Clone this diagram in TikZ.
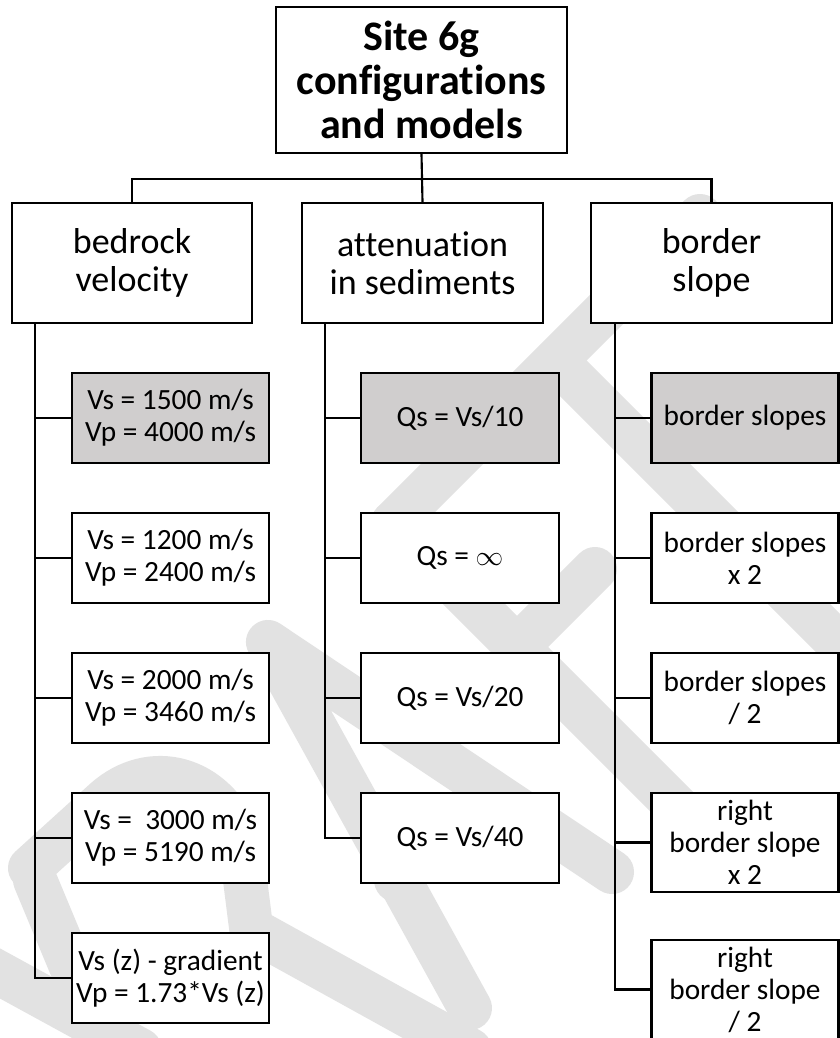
\documentclass[tikz,border=0pt]{standalone}
\usepackage{fontspec}
\setmainfont{Carlito}[Ligatures=NoCommon]
\usetikzlibrary{calc}
\definecolor{boxgray}{RGB}{208,206,206}
\definecolor{wmgray}{RGB}{226,226,226}
\begin{document}
\begin{tikzpicture}[x=0.75pt,y=-0.75pt,
  box/.style={draw=black,line width=1.6pt,fill=white,inner sep=0pt,align=center},
  topbox/.style={box,minimum width=218.25pt,minimum height=109.5pt,
    font=\fontsize{31.5}{33}\selectfont\bfseries},
  catbox/.style={box,minimum width=180.4pt,minimum height=90pt,
    font=\fontsize{27}{28.5}\selectfont},
  leaf/.style={box,minimum height=67.5pt,font=\fontsize{22}{24}\selectfont},
  bedbox/.style={leaf,minimum width=147.75pt},
  attbox/.style={leaf,minimum width=148.5pt},
  borbox/.style={leaf,minimum width=140.25pt},
  tallbox/.style={borbox,minimum height=74.25pt},
  shaded/.style={fill=boxgray},
  conn/.style={draw=black,line width=1.6pt},
  wm/.style={draw=wmgray,line width=33pt,line cap=round,line join=round}]

\fill[white] (0,0) rectangle (839,1038);
\useasboundingbox (0,0) rectangle (839,1038);

% background watermark strokes
\begin{scope}[wm]
  \draw (393,523) -- (700,216);
  \draw (556,361) -- (900,705);
  \draw (393,523) -- (700,830);
  \draw (517,647) -- (595,569);
  \draw (612,872) -- (268,642) -- (470,1008);
  \draw (396,880) -- (489,792);
  \draw (30,868) -- (105,800) .. controls (150,760) and (215,775) .. (240,840) -- (252,935);
  \draw (35,880) -- (110,1060);
  \draw (262,935) -- (470,1050);
  \draw (-10,968) -- (140,1050);
\end{scope}

% root and categories
\node[topbox] (top) at (421.5,80) {Site 6g\\configurations\\and models};
\node[catbox] (bed) at (132,263) {bedrock\\velocity};
\node[catbox] (att) at (422.5,263) {attenuation\\in sediments};
\node[catbox] (bor) at (711.5,263) {border\\slope};

% bedrock velocity variants
\node[bedbox,shaded] (b1) at (170.5,418) {Vs = 1500 m/s\\Vp = 4000 m/s};
\node[bedbox] (b2) at (170.5,558) {Vs = 1200 m/s\\Vp = 2400 m/s};
\node[bedbox] (b3) at (170.5,698) {Vs = 2000 m/s\\Vp = 3460 m/s};
\node[bedbox] (b4) at (170.5,838) {Vs =\ \ 3000 m/s\\Vp = 5190 m/s};
\node[bedbox] (b5) at (170.5,978) {Vs (z) - gradient\\Vp = 1.73*Vs (z)};

% attenuation variants
\node[attbox,shaded] (a1) at (460,418) {Qs = Vs/10};
\node[attbox] (a2) at (460,558) {Qs = $\infty$};
\node[attbox] (a3) at (460,698) {Qs = Vs/20};
\node[attbox] (a4) at (460,838) {Qs = Vs/40};

% border slope variants
\node[borbox,shaded] (r1) at (745,418) {border slopes};
\node[borbox] (r2) at (745,558) {border slopes\\x 2};
\node[borbox] (r3) at (745,698) {border slopes\\/ 2};
\node[tallbox] (r4) at (745,842.5) {right\\border slope\\x 2};
\node[tallbox] (r5) at (745,989.5) {right\\border slope\\/ 2};

% root to categories
\draw[conn] (top.south) -- (att.north);
\draw[conn] (top.south) ++(0,25) -| (bed.north);
\draw[conn] (top.south) ++(0,25) -| (bor.north);

% trunks
\coordinate (bt) at ($(bed.south west)+(24,0)$);
\coordinate (at) at ($(att.south west)+(24,0)$);
\coordinate (rt) at ($(bor.south west)+(25,0)$);
\foreach \i in {1,...,5} \draw[conn] (bt) |- (b\i.west);
\foreach \i in {1,...,4} \draw[conn] (at) |- (a\i.west);
\foreach \i in {1,...,5} \draw[conn] (rt) |- (r\i.west);
\end{tikzpicture}
\end{document}
